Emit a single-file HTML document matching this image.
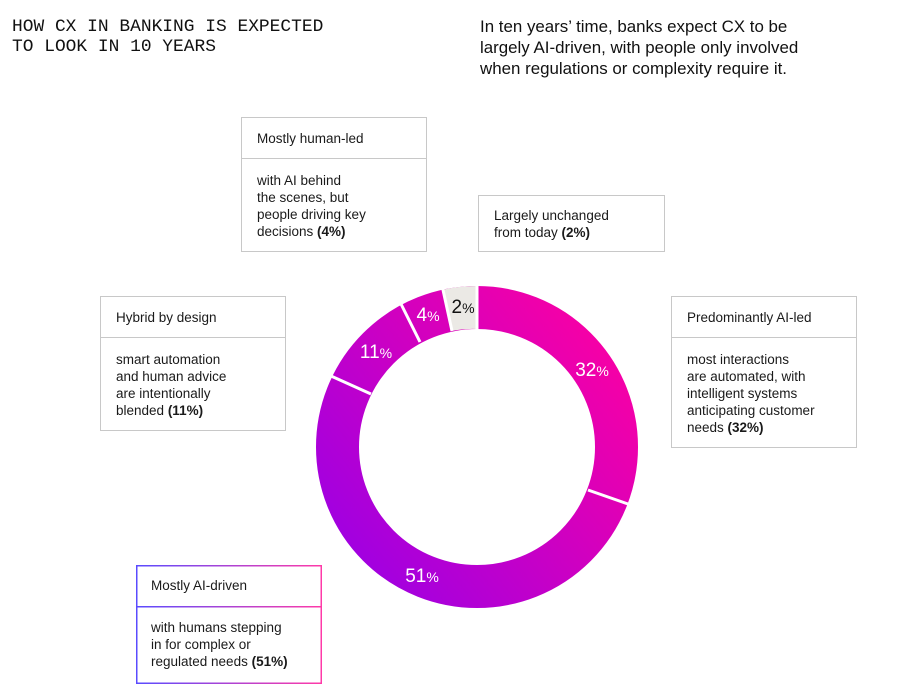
<!DOCTYPE html>
<html><head><meta charset="utf-8"><style>
body{margin:0;width:904px;height:700px;background:#fff;position:relative;overflow:hidden;font-family:"Liberation Sans",sans-serif;color:#1a1a1a}
.t{position:absolute;left:12px;top:17px;font-family:"Liberation Mono",monospace;font-size:17.9px;line-height:20px;color:#111}
.sub{position:absolute;left:480px;top:16px;font-size:16.9px;line-height:21px;color:#111}
.box{position:absolute;border:1.5px solid #c8c8c8;box-sizing:border-box;font-size:13.5px;line-height:17px}
.box .h{height:41px;border-bottom:1.5px solid #c8c8c8;box-sizing:border-box;padding:12px 0 0 15px}
.box .b{padding:13px 10px 0 15px}
b{font-weight:bold}
</style></head><body>
<div class="t">HOW CX IN BANKING IS EXPECTED<br>TO LOOK IN 10 YEARS</div>
<div class="sub">In ten years’ time, banks expect CX to be<br>largely AI-driven, with people only involved<br>when regulations or complexity require it.</div>

<div class="box" style="left:241px;top:117px;width:186px;height:135px"><div class="h">Mostly human-led</div><div class="b">with AI behind<br>the scenes, but<br>people driving key<br>decisions <b>(4%)</b></div></div>
<div class="box" style="left:478px;top:195px;width:187px;height:57px"><div class="b" style="padding-top:11px">Largely unchanged<br>from today <b>(2%)</b></div></div>
<div class="box" style="left:100px;top:296px;width:186px;height:135px"><div class="h">Hybrid by design</div><div class="b">smart automation<br>and human advice<br>are intentionally<br>blended <b>(11%)</b></div></div>
<div class="box" style="left:671px;top:296px;width:186px;height:152px"><div class="h">Predominantly AI-led</div><div class="b">most interactions<br>are automated, with<br>intelligent systems<br>anticipating customer<br>needs <b>(32%)</b></div></div>
<div class="box" style="left:136px;top:565px;width:186px;height:119px;border:none"><svg width="186" height="119" style="position:absolute;left:0;top:0"><defs><linearGradient id="bg" gradientUnits="userSpaceOnUse" x1="0" y1="0" x2="186" y2="0"><stop offset="0" stop-color="#5a4bff"/><stop offset="1" stop-color="#ff3aa8"/></linearGradient></defs><rect x=".75" y=".75" width="184.5" height="117.5" fill="none" stroke="url(#bg)" stroke-width="1.5"/><rect x="0" y="41" width="186" height="1.5" fill="url(#bg)"/></svg><div style="position:relative"><div class="h" style="border:none">Mostly AI-driven</div><div class="b">with humans stepping<br>in for complex or<br>regulated needs <b>(51%)</b></div></div></div>

<svg width="904" height="700" style="position:absolute;left:0;top:0">
<defs><linearGradient id="g" gradientUnits="userSpaceOnUse" x1="637" y1="330" x2="317" y2="580"><stop offset="0" stop-color="#ff00a0"/><stop offset="1" stop-color="#9600e8"/></linearGradient></defs>
<circle cx="477" cy="447" r="139.5" fill="none" stroke="url(#g)" stroke-width="43"/>
<path d="M443 289.6 A161 161 0 0 1 477 286 L477 329 A118 118 0 0 0 452 330.7 Z" fill="#ebe9e5"/>
<g stroke="#fff" stroke-width="3">
<line x1="477" y1="284" x2="477" y2="331"/>
<line x1="588" y1="490" x2="628" y2="504"/>
<line x1="371" y1="394" x2="331" y2="376"/>
<line x1="420" y1="342" x2="401" y2="304"/>
<line x1="452" y1="331" x2="442.5" y2="287.5"/>
</g>
<g font-family="Liberation Sans, sans-serif" font-size="19" fill="#fff" text-anchor="middle">
<text x="592" y="376">32<tspan font-size="14">%</tspan></text>
<text x="422" y="582">51<tspan font-size="14">%</tspan></text>
<text x="376" y="358">11<tspan font-size="14">%</tspan></text>
<text x="428" y="321">4<tspan font-size="14">%</tspan></text>
<text x="463" y="313" fill="#111">2<tspan font-size="14">%</tspan></text>
</g>
</svg>
</body></html>
